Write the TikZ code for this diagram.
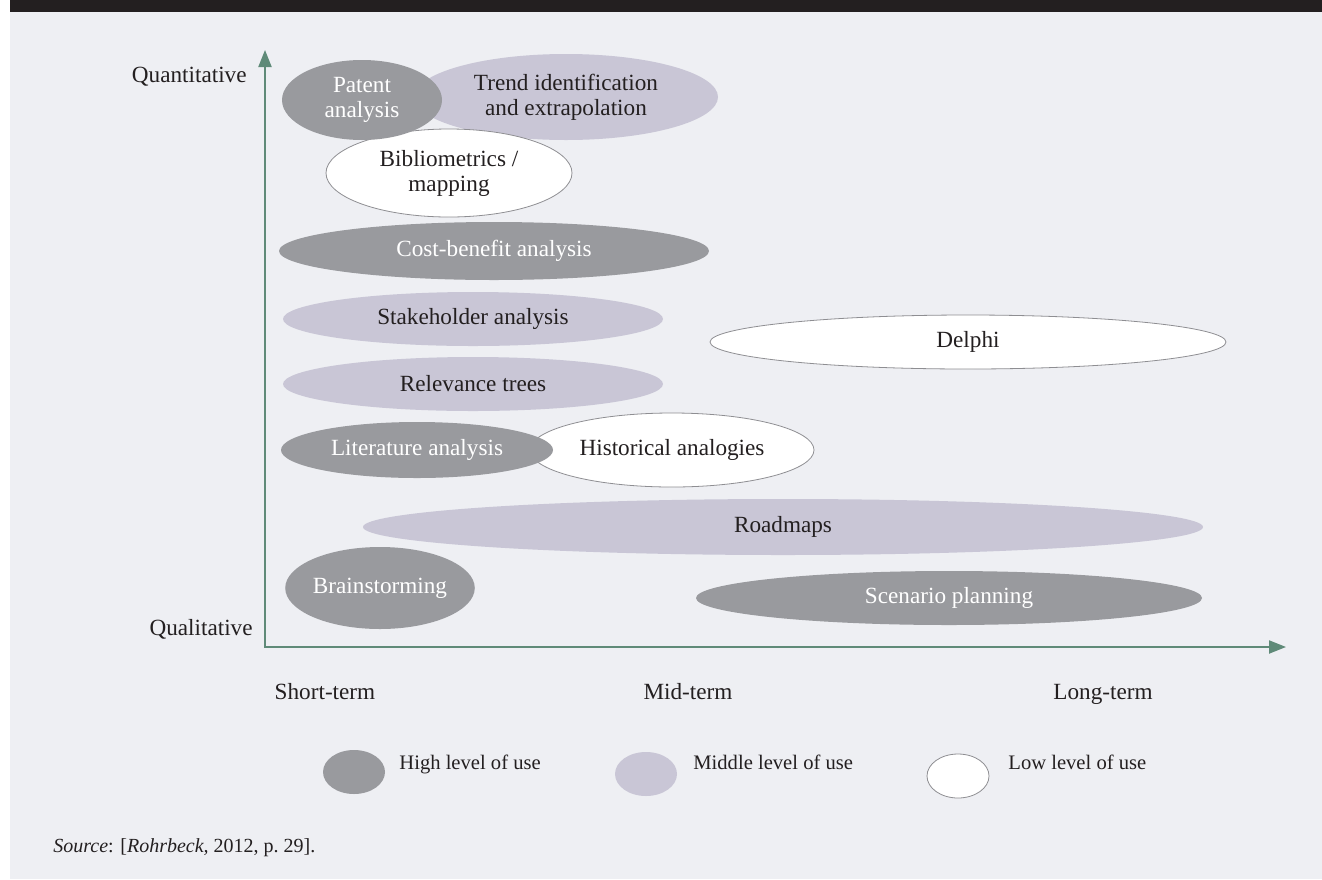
\documentclass[tikz,border=0pt]{standalone}
\usepackage{fontspec}
\setmainfont{Liberation Serif}
\usetikzlibrary{arrows.meta,shapes.geometric}
\definecolor{ink}{HTML}{231F20}
\definecolor{panel}{HTML}{EEEFF3}
\definecolor{highgrey}{HTML}{999A9E}
\definecolor{midlilac}{HTML}{C9C6D6}
\definecolor{rimgrey}{HTML}{8E8E92}
\definecolor{axisgreen}{HTML}{5F8A78}
\begin{document}
\begin{tikzpicture}
		[x=0.5pt,y=-0.5pt,
		every node/.style={font=\fontsize{11.6}{12.5}\selectfont, text=ink, inner sep=0pt},
		blob/.style={ellipse, inner sep=0pt, outer sep=0pt, align=center},
		blobsize/.style 2 args={minimum width=#1pt, minimum height=#2pt},
		highuse/.style={blob, fill=highgrey, text=white},
		miduse/.style={blob, fill=midlilac},
		lowuse/.style={blob, fill=white, draw=rimgrey, line width=0.4pt},
		axis/.style={draw=axisgreen, line width=1pt},
		legendtext/.style={anchor=base west, font=\fontsize{10.3}{12}\selectfont}]
		\useasboundingbox (0,0) rectangle (1322,879);
		\fill[white] (0,0) rectangle (1322,879);
		\fill[panel] (10,12) rectangle (1322,879);
		\fill[ink] (10,0) rectangle (1322,12);
		% axes
		\coordinate (origin) at (265,647);
		\coordinate (ytip) at (265,50);
		\coordinate (xtip) at (1286,647);
		\draw[axis, {Triangle[length=8.5pt,width=6.5pt]}-{Triangle[length=8.5pt,width=6.5pt]}]
			(ytip) -- (origin) -- (xtip);
		\node[anchor=east] (quanti) at (247,77) {Quantitative};
		\node[anchor=east] (quali) at (253,629) {Qualitative};
		\node[anchor=base] (short) at (325,699) {Short-term};
		\node[anchor=base] (mid) at (688,699) {Mid-term};
		\node[anchor=base] (long) at (1103,699) {Long-term};
		% methods
		\node[miduse, blobsize={152}{43}] (trend) at (566,97) {Trend identification\\and extrapolation};
		\node[lowuse, blobsize={123}{44}] (biblio) at (449,173) {Bibliometrics /\\mapping};
		\node[highuse, blobsize={80}{40}] (patent) at (362,100) {Patent\\analysis};
		\node[highuse, blobsize={215}{29}] (cost) at (494,251) {Cost-benefit analysis};
		\node[miduse, blobsize={190}{27}] (stake) at (473,319) {Stakeholder analysis};
		\node[lowuse, blobsize={258}{27}] (delphi) at (968,342) {Delphi};
		\node[miduse, blobsize={190}{27}] (relev) at (473,384) {Relevance trees};
		\node[lowuse, blobsize={142}{37}] (hist) at (672,450) {Historical analogies};
		\node[highuse, blobsize={136}{28}] (lit) at (417,450) {Literature analysis};
		\node[miduse, blobsize={420}{28}] (road) at (783,527) {Roadmaps};
		\node[highuse, blobsize={93}{41}] (brain) at (380,588) {Brainstorming};
		\node[highuse, blobsize={253}{27}] (scen) at (949,598) {Scenario planning};
		% legend
		\node[highuse, blobsize={31}{22}] (keyhigh) at (354,772) {};
		\node[miduse, blobsize={31}{22}] (keymid) at (646,774) {};
		\node[lowuse, blobsize={31}{22}] (keylow) at (958,776) {};
		\node[legendtext] (txthigh) at (399,769) {High level of use};
		\node[legendtext] (txtmid) at (693,769) {Middle level of use};
		\node[legendtext] (txtlow) at (1008,769) {Low level of use};
		\node[legendtext, font=\fontsize{10}{12}\selectfont] (source) at (53,852)
			{\textit{Source}: [\textit{Rohrbeck,} 2012, p.~29].};
	\end{tikzpicture}
\end{document}
